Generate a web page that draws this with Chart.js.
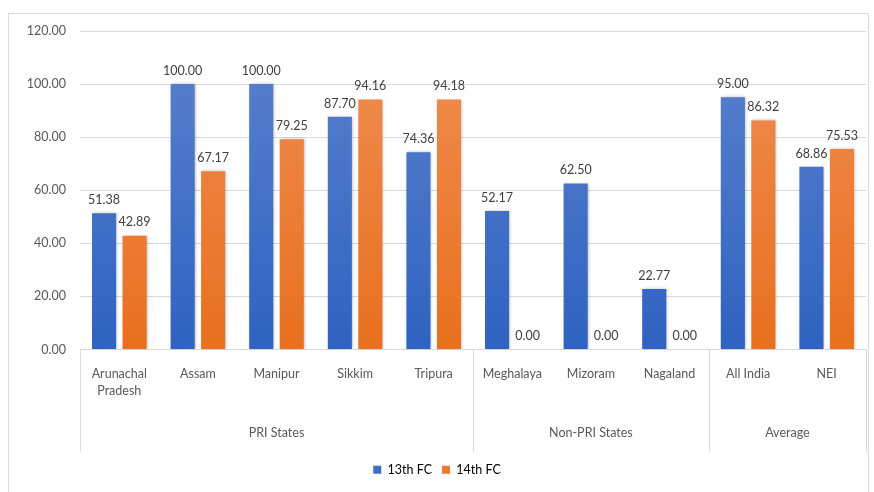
<!DOCTYPE html>
<html>
<head>
<meta charset="utf-8">
<script src="https://cdn.jsdelivr.net/npm/chart.js@4/dist/chart.umd.min.js"></script>
<style>
html,body{margin:0;padding:0;background:#fff;}
#wrap{position:relative;width:874px;height:492px;}
</style>
</head>
<body>
<div id="wrap"><canvas id="c" width="874" height="492"></canvas></div>
<script>
const categories = ['Arunachal Pradesh','Assam','Manipur','Sikkim','Tripura','Meghalaya','Mizoram','Nagaland','All India','NEI'];
const fc13 = [51.38,100.00,100.00,87.70,74.36,52.17,62.50,22.77,95.00,68.86];
const fc14 = [42.89,67.17,79.25,94.16,94.18,0.00,0.00,0.00,86.32,75.53];
const groupNames = ['PRI States','Non-PRI States','Average'];
const groupSizes = [5,3,2];
const seriesNames = ['13th FC','14th FC'];
const yMin = 0, yMax = 120, yStep = 20;

const txt = '#595959';
const fontFam = 'Lato, "Open Sans", sans-serif';

function grad(top, bottom){
  return function(c){
    const ch = c.chart; const a = ch.chartArea;
    if(!a) return bottom;
    const g = ch.ctx.createLinearGradient(0,a.top,0,a.bottom);
    g.addColorStop(0, top); g.addColorStop(1, bottom);
    return g;
  };
}

const labelPlugin = {
  id:'extras',
  beforeDraw(chart){
    const ctx = chart.ctx;
    ctx.save();
    ctx.strokeStyle = '#d9d9d9'; ctx.lineWidth = 1;
    ctx.strokeRect(8.5,13.5,860,500);
    ctx.restore();
  },
  beforeDatasetsDraw(chart){
    const ctx = chart.ctx;
    ctx.save();
    ctx.shadowColor = 'rgba(0,0,0,0.28)';
    ctx.shadowBlur = 3;
    ctx.shadowOffsetX = 1;
    ctx.shadowOffsetY = 0;
  },
  afterDatasetsDraw(chart){
    const ctx = chart.ctx;
    ctx.restore();
    ctx.save();
    ctx.font = '12.5px ' + fontFam;
    ctx.fillStyle = '#404040';
    ctx.textAlign = 'center';
    ctx.textBaseline = 'bottom';
    chart.data.datasets.forEach((ds,di)=>{
      const meta = chart.getDatasetMeta(di);
      meta.data.forEach((bar,i)=>{
        ctx.fillText(Number(ds.data[i]).toFixed(2), bar.x, bar.y - 7);
      });
    });
    const xs = chart.scales.x;
    const a = chart.chartArea;
    const half = (xs.getPixelForValue(1) - xs.getPixelForValue(0))/2;
    ctx.strokeStyle = '#d9d9d9'; ctx.lineWidth = 1;
    let idx = 0;
    const bounds = [xs.getPixelForValue(0) - half];
    groupSizes.forEach(n=>{ idx += n; bounds.push(xs.getPixelForValue(idx-1) + half); });
    bounds.forEach(b=>{
      const x = Math.round(b)+0.5;
      ctx.beginPath(); ctx.moveTo(x,a.bottom); ctx.lineTo(x,a.bottom+102); ctx.stroke();
    });
    ctx.fillStyle = txt;
    ctx.font = '12.5px ' + fontFam;
    ctx.textBaseline = 'middle';
    groupNames.forEach((g,k)=>{
      ctx.fillText(g,(bounds[k]+bounds[k+1])/2, a.bottom+83);
    });
    ctx.restore();
  }
};

new Chart(document.getElementById('c'),{
  type:'bar',
  data:{
    labels: categories.map(c=>c==='Arunachal Pradesh' ? c.split(' ') : c),
    datasets:[
      {label:seriesNames[0], data:fc13, backgroundColor:grad('#5b83cd','#2f62c1'), borderWidth:0},
      {label:seriesNames[1], data:fc14, backgroundColor:grad('#f08e53','#e8701e'), borderWidth:0}
    ]
  },
  options:{
    responsive:false,
    animation:false,
    categoryPercentage:0.776,
    barPercentage:0.79,
    layout:{padding:{top:31,left:8,right:8,bottom:6}},
    plugins:{
      legend:{position:'bottom',labels:{boxWidth:8,boxHeight:8,padding:10,color:txt,font:{family:fontFam,size:12.5},
        generateLabels(chart){
          const cols=['#3f6cc6','#ec7a2c'];
          return chart.data.datasets.map((d,i)=>({text:d.label,fillStyle:cols[i],strokeStyle:cols[i],lineWidth:0,datasetIndex:i}));
        }}},
      tooltip:{enabled:false}
    },
    scales:{
      x:{
        grid:{display:false,drawTicks:false},
        border:{display:false},
        ticks:{color:txt,font:{family:fontFam,size:12.5,lineHeight:1.36},padding:16,maxRotation:0,autoSkip:false},
        afterFit(s){ s.height = 104; }
      },
      y:{
        min:yMin,max:yMax,
        grid:{color:'#d9d9d9',drawTicks:false},
        border:{display:false},
        ticks:{stepSize:yStep,color:txt,font:{family:fontFam,size:12.5},padding:14,callback:v=>Number(v).toFixed(2)},
        afterFit(s){ s.width = 72; }
      }
    }
  },
  plugins:[labelPlugin]
});
</script>
</body>
</html>
